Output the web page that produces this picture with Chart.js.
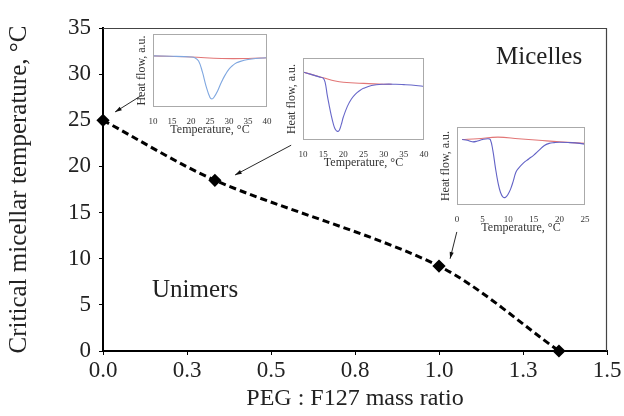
<!DOCTYPE html>
<html>
<head>
<meta charset="utf-8">
<script src="https://cdn.jsdelivr.net/npm/chart.js@4.4.0/dist/chart.umd.min.js"></script>
<style>
  body { margin: 0; background: #fff; }
  #wrap { position: relative; width: 624px; height: 416px; }
  canvas { position: absolute; }
</style>
</head>
<body>
<div id="wrap">
  <canvas id="main" width="624" height="416" style="left:0;top:0;width:624px;height:416px"></canvas>
  <canvas id="ins1" style="left:135px;top:30px;width:140px;height:108px"></canvas>
  <canvas id="ins2" style="left:285px;top:54px;width:147px;height:117px"></canvas>
  <canvas id="ins3" style="left:439px;top:123px;width:154px;height:113px"></canvas>
</div>
<script>
// main chart data
const ratio = [0, 0.333, 1.0, 1.357];
const cmt = [25.0, 18.5, 9.2, 0];
const xTickLabels = ["0.0", "0.3", "0.5", "0.8", "1.0", "1.3", "1.5"];

// DSC insets (heat flow in relative units)
const ins1RedT = [10, 20, 28, 35, 40];
const ins1Red = [0.70, 0.685, 0.665, 0.665, 0.675];
const ins1BlueT = [10, 15, 20, 21, 22, 23, 24, 25, 25.5, 26, 27, 28, 29, 30, 31, 32, 33, 35, 37, 40];
const ins1Blue = [0.70, 0.695, 0.685, 0.675, 0.63, 0.48, 0.28, 0.13, 0.11, 0.13, 0.22, 0.34, 0.44, 0.52, 0.57, 0.605, 0.625, 0.65, 0.665, 0.675];

const ins2RedT = [10, 12, 15, 18, 20, 25, 30, 32];
const ins2Red = [0.83, 0.80, 0.76, 0.72, 0.705, 0.69, 0.68, 0.68];
const ins2BlueT = [10, 12, 14, 15, 15.5, 16, 16.5, 17, 17.5, 18, 18.5, 19, 19.5, 20, 21, 22, 23, 24, 25, 27, 30, 33, 35, 38, 40];
const ins2Blue = [0.83, 0.80, 0.77, 0.755, 0.70, 0.55, 0.42, 0.30, 0.20, 0.13, 0.105, 0.12, 0.19, 0.28, 0.41, 0.50, 0.56, 0.60, 0.63, 0.665, 0.68, 0.68, 0.675, 0.665, 0.655];

const ins3RedT = [1, 4, 8, 12, 16, 20, 25];
const ins3Red = [0.84, 0.85, 0.87, 0.85, 0.83, 0.81, 0.79];
const ins3BlueT = [1, 2, 3, 4, 5, 6, 6.5, 7, 7.5, 8, 8.5, 9, 9.5, 10, 10.5, 11, 11.5, 12, 13, 14, 15, 16, 17, 18, 19, 20, 22, 24, 25];
const ins3Blue = [0.84, 0.83, 0.81, 0.82, 0.84, 0.85, 0.84, 0.70, 0.48, 0.29, 0.16, 0.10, 0.10, 0.14, 0.21, 0.31, 0.42, 0.47, 0.54, 0.59, 0.64, 0.70, 0.76, 0.79, 0.80, 0.805, 0.80, 0.79, 0.78];

// labels and arrows in data units of the main chart
const regionLabels = [
  { text: "Micelles", x: 1.298, y: 31.8 },
  { text: "Unimers", x: 0.274, y: 6.6 }
];
const arrows = [
  { x1: 0.115, y1: 27.7, x2: 0.036, y2: 25.9 },
  { x1: 0.56, y1: 22.3, x2: 0.393, y2: 19.07 },
  { x1: 1.053, y1: 12.9, x2: 1.033, y2: 10.0 }
];

const serif = "'Liberation Serif', 'Times New Roman', serif";

function toPoints(xs, ys) {
  return xs.map((x, i) => ({ x: x, y: ys[i] }));
}

// thin frame on top and right of main plot, plus text and arrows
const mainExtras = {
  id: "mainExtras",
  afterDraw(chart) {
    const ctx = chart.ctx;
    const a = chart.chartArea;
    const xs = chart.scales.x, ys = chart.scales.y;
    ctx.save();
    ctx.strokeStyle = "#444";
    ctx.lineWidth = 1.2;
    ctx.beginPath();
    ctx.moveTo(a.left, a.top + 0.5);
    ctx.lineTo(a.right - 0.5, a.top + 0.5);
    ctx.lineTo(a.right - 0.5, a.bottom);
    ctx.stroke();

    ctx.fillStyle = "#222";
    ctx.font = "25px " + serif;
    ctx.textAlign = "center";
    ctx.textBaseline = "middle";
    regionLabels.forEach(l => {
      ctx.fillText(l.text, xs.getPixelForValue(l.x), ys.getPixelForValue(l.y));
    });

    ctx.strokeStyle = "#111";
    ctx.fillStyle = "#111";
    ctx.lineWidth = 0.9;
    arrows.forEach(ar => {
      const x1 = xs.getPixelForValue(ar.x1), y1 = ys.getPixelForValue(ar.y1);
      const x2 = xs.getPixelForValue(ar.x2), y2 = ys.getPixelForValue(ar.y2);
      const ang = Math.atan2(y2 - y1, x2 - x1);
      ctx.beginPath();
      ctx.moveTo(x1, y1);
      ctx.lineTo(x2, y2);
      ctx.stroke();
      ctx.beginPath();
      ctx.moveTo(x2, y2);
      ctx.lineTo(x2 - 7 * Math.cos(ang - 0.3), y2 - 7 * Math.sin(ang - 0.3));
      ctx.lineTo(x2 - 7 * Math.cos(ang + 0.3), y2 - 7 * Math.sin(ang + 0.3));
      ctx.closePath();
      ctx.fill();
    });
    ctx.restore();
  }
};

new Chart(document.getElementById("main"), {
  type: "scatter",
  data: {
    datasets: [{
      data: toPoints(ratio, cmt),
      showLine: true,
      borderColor: "#000",
      borderWidth: 3,
      borderDash: [7, 4],
      tension: 0.3,
      pointStyle: "rectRot",
      pointRadius: 4.5,
      pointBackgroundColor: "#000",
      pointBorderColor: "#000",
      clip: false
    }]
  },
  options: {
    responsive: false,
    animation: false,
    layout: { padding: { top: 28, right: 17, left: 0, bottom: 0 } },
    plugins: { legend: { display: false }, tooltip: { enabled: false } },
    scales: {
      x: {
        type: "linear",
        min: 0,
        max: 1.5,
        afterFit(scale) { scale.height = 65; },
        border: { color: "#000", width: 2 },
        grid: { drawOnChartArea: false, color: "#000", tickLength: 4 },
        ticks: {
          stepSize: 0.25,
          color: "#222",
          padding: 2,
          font: { family: serif, size: 23 },
          callback: (v, i) => xTickLabels[i]
        },
        title: {
          display: true,
          text: "PEG : F127 mass ratio",
          color: "#222",
          font: { family: serif, size: 24 },
          padding: { top: 0, bottom: 3 }
        }
      },
      y: {
        min: 0,
        max: 35,
        afterFit(scale) { scale.width = 103; },
        border: { color: "#000", width: 2 },
        grid: { drawOnChartArea: false, color: "#000", tickLength: 4 },
        ticks: {
          stepSize: 5,
          color: "#222",
          padding: 8,
          font: { family: serif, size: 23 }
        },
        title: {
          display: true,
          text: "Critical micellar temperature, °C",
          color: "#222",
          font: { family: serif, size: 25 },
          padding: { top: 4, bottom: 0 }
        }
      }
    }
  },
  plugins: [mainExtras]
});

// grey box around inset plot
const insetBox = {
  id: "insetBox",
  afterDraw(chart) {
    const a = chart.chartArea;
    const ctx = chart.ctx;
    ctx.save();
    ctx.strokeStyle = "#aaa";
    ctx.lineWidth = 1;
    ctx.strokeRect(a.left + 0.5, a.top + 0.5, a.right - a.left - 1, a.bottom - a.top - 1);
    ctx.restore();
  }
};

function makeInset(id, w, h, xMin, xMax, redT, red, blueT, blue, blueColor) {
  const el = document.getElementById(id);
  el.width = w;
  el.height = h;
  new Chart(el, {
    type: "scatter",
    data: {
      datasets: [
        { data: toPoints(blueT, blue), showLine: true, borderColor: blueColor, borderWidth: 1.1, pointRadius: 0, tension: 0.4 },
        { data: toPoints(redT, red), showLine: true, borderColor: "#e27676", borderWidth: 1.1, pointRadius: 0, tension: 0.4 }
      ]
    },
    options: {
      responsive: false,
      animation: false,
      layout: { padding: { top: 4, right: 8, left: 0, bottom: 0 } },
      plugins: { legend: { display: false }, tooltip: { enabled: false } },
      scales: {
        x: {
          type: "linear",
          min: xMin,
          max: xMax,
          afterFit(scale) { scale.height = 31; },
          border: { display: false },
          grid: { display: false },
          ticks: { stepSize: 5, color: "#333", padding: 1, font: { family: serif, size: 9 } },
          title: {
            display: true,
            text: "Temperature, °C",
            color: "#333",
            font: { family: serif, size: 12 },
            padding: { top: 0, bottom: 1 }
          }
        },
        y: {
          min: 0,
          max: 1,
          afterFit(scale) { scale.width = 18; },
          border: { display: false },
          grid: { display: false },
          ticks: { display: false },
          title: {
            display: true,
            text: "Heat flow, a.u.",
            color: "#333",
            font: { family: serif, size: 12 },
            padding: { top: 0, bottom: 0 }
          }
        }
      }
    },
    plugins: [insetBox]
  });
}

makeInset("ins1", 140, 108, 10, 40, ins1RedT, ins1Red, ins1BlueT, ins1Blue, "#7fa7e0");
makeInset("ins2", 147, 117, 10, 40, ins2RedT, ins2Red, ins2BlueT, ins2Blue, "#6767c9");
makeInset("ins3", 154, 113, 0, 25, ins3RedT, ins3Red, ins3BlueT, ins3Blue, "#6262c6");
</script>
</body>
</html>
